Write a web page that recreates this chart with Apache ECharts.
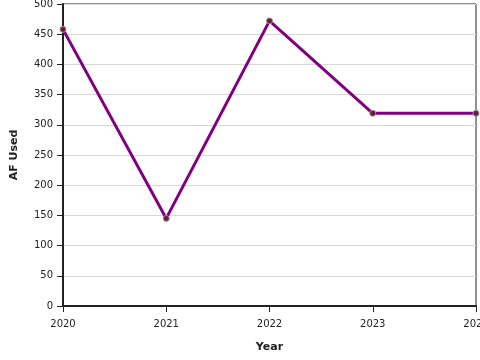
<!DOCTYPE html>
<html>
<head>
<meta charset="utf-8">
<script src="https://cdn.jsdelivr.net/npm/echarts@6/dist/echarts.min.js"></script>
<style>html,body{margin:0;padding:0;background:#fff;}</style>
</head>
<body>
<div id="chart" style="width:480px;height:360px;"></div>
<script type="text/javascript">
	var years = ['2020', '2021', '2022', '2023', '2024'];
	var afUsed = [458, 145, 472, 319, 319];

	var myChart = echarts.init(document.getElementById('chart'));
	var option = {
		animation: false,
		grid: {
			left: 63, right: 4, top: 4, bottom: 54,
			outerBoundsMode: 'none',
			containLabel: false,
			show: true,
			borderColor: '#222',
			borderWidth: 1
		},
		xAxis: {
			type: 'category',
			boundaryGap: false,
			data: years,
			name: 'Year',
			nameLocation: 'middle',
			nameGap: 36,
			nameTextStyle: { fontFamily: 'DejaVu Sans', fontSize: 11, fontWeight: 'bold', color: '#222' },
			axisLine: { lineStyle: { color: '#222', width: 2 } },
			axisTick: { length: 6, alignWithLabel: true, lineStyle: { color: '#222' } },
			axisLabel: { fontFamily: 'DejaVu Sans', fontSize: 10, color: '#222', margin: 13, showMaxLabel: true },
			splitLine: { show: false }
		},
		yAxis: {
			type: 'value',
			min: 0, max: 500, interval: 50,
			name: 'AF Used',
			nameLocation: 'middle',
			nameGap: 43,
			nameTextStyle: { fontFamily: 'DejaVu Sans', fontSize: 11, fontWeight: 'bold', color: '#222' },
			axisLine: { show: true, lineStyle: { color: '#222', width: 2 } },
			axisTick: { show: true, length: 6, lineStyle: { color: '#222' } },
			axisLabel: { fontFamily: 'DejaVu Sans', fontSize: 10, color: '#222', margin: 10 },
			splitLine: { lineStyle: { color: '#d8d8d8' } }
		},
		series: [{
			type: 'line',
			data: afUsed,
			lineStyle: { color: '#800080', width: 3 },
			symbol: 'circle',
			symbolSize: 6,
			itemStyle: { color: '#6a1a3c', borderColor: '#a09090', borderWidth: 1 }
		}]
	};
	myChart.setOption(option);
</script>
</body>
</html>
